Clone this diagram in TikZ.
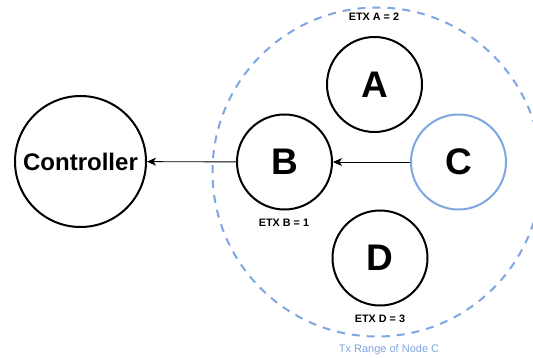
\documentclass[tikz,border=0pt]{standalone}
\usepackage{fontspec}
\setmainfont{Liberation Sans}
\usetikzlibrary{arrows.meta}
\definecolor{rangeblue}{HTML}{7EA6E0}

\begin{document}
\begin{tikzpicture}[x=1pt, y=-1pt,
    mote/.style={circle, draw, line width=2pt, minimum size=95pt, inner sep=0pt,
                 font=\fontsize{37}{37}\selectfont\bfseries},
    etx/.style={font=\fontsize{10.8}{12}\selectfont\bfseries},
    link/.style={-{Stealth[length=9pt, width=8pt, inset=2.5pt]}, line width=0.9pt}]
                    \useasboundingbox (0,0) rectangle (533,358);

                    % Tx range of node C
                    \node[circle, draw=rangeblue, line width=2pt, dash pattern=on 8pt off 7pt,
                          minimum size=329pt, inner sep=0pt] (range) at (377,172) {};
                    \node[rangeblue, font=\fontsize{11}{12}\selectfont] (rangelabel) at (389,350) {Tx Range of Node C};

                    % Controller and motes
                    \node[mote, minimum size=131pt, font=\fontsize{24}{24}\selectfont\bfseries] (ctrl) at (80.5,161.5) {Controller};
                    \node[mote] (B) at (284.5,162) {B};
                    \node[mote] (A) at (374.5,84.5) {A};
                    \node[mote, draw=rangeblue] (C) at (458.5,162) {C};
                    \node[mote] (D) at (380,258) {D};

                    % ETX values
                    \node[etx] (etxA) at (374,17) {ETX A = 2};
                    \node[etx] (etxB) at (284,223) {ETX B = 1};
                    \node[etx] (etxD) at (380,319) {ETX D = 3};

                    % Routes towards the controller
                    \draw[link] (C) -- (B);
                    \draw[link] (B) -- (ctrl);
                \end{tikzpicture}
\end{document}
